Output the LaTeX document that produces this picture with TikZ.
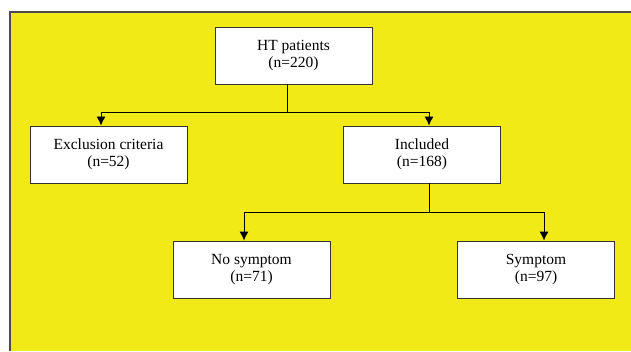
\documentclass[tikz,border=0pt]{standalone}
\usepackage{fontspec}
\setmainfont{Liberation Serif}
\usepackage{xcolor}
\usetikzlibrary{arrows.meta}
\definecolor{bgyellow}{RGB}{241,234,22}

\begin{document}
\begin{tikzpicture}[x=1pt,y=1pt,
    box/.style={draw=black!80, fill=white, line width=0.9pt, minimum width=157pt,
        minimum height=57pt, align=center, inner sep=0pt,
        font=\fontsize{15.5}{17.5}\selectfont},
    link/.style={line width=0.9pt, -{Latex[length=9pt,width=9pt]}}]
    \useasboundingbox (0,0) rectangle (631,351);
    \fill[bgyellow] (10,0) rectangle (631,339);
    \draw[black!70, line width=1.5pt] (10,0) -- (10,339) -- (631,339);

    \node[box] (ht)    at (293.5,295.5) {HT patients\\(n=220)};
    \node[box] (excl)  at (108.5,196.5) {Exclusion criteria\\(n=52)};
    \node[box] (incl)  at (422,196.5)   {Included\\(n=168)};
    \node[box] (nosym) at (251.5,81.5)  {No symptom\\(n=71)};
    \node[box] (sym)   at (536,81.5)    {Symptom\\(n=97)};

    \coordinate (split1) at (287,239);
    \coordinate (split2) at (429,139);

    \draw[line width=0.9pt] (ht.south -| split1) -- (split1);
    \draw[link] (split1) -| ([xshift=-7.5pt]excl.north);
    \draw[link] (split1) -| ([xshift=7pt]incl.north);

    \draw[line width=0.9pt] (incl.south -| split2) -- (split2);
    \draw[link] (split2) -| ([xshift=-7.5pt]nosym.north);
    \draw[link] (split2) -| ([xshift=8pt]sym.north);
\end{tikzpicture}
\end{document}
